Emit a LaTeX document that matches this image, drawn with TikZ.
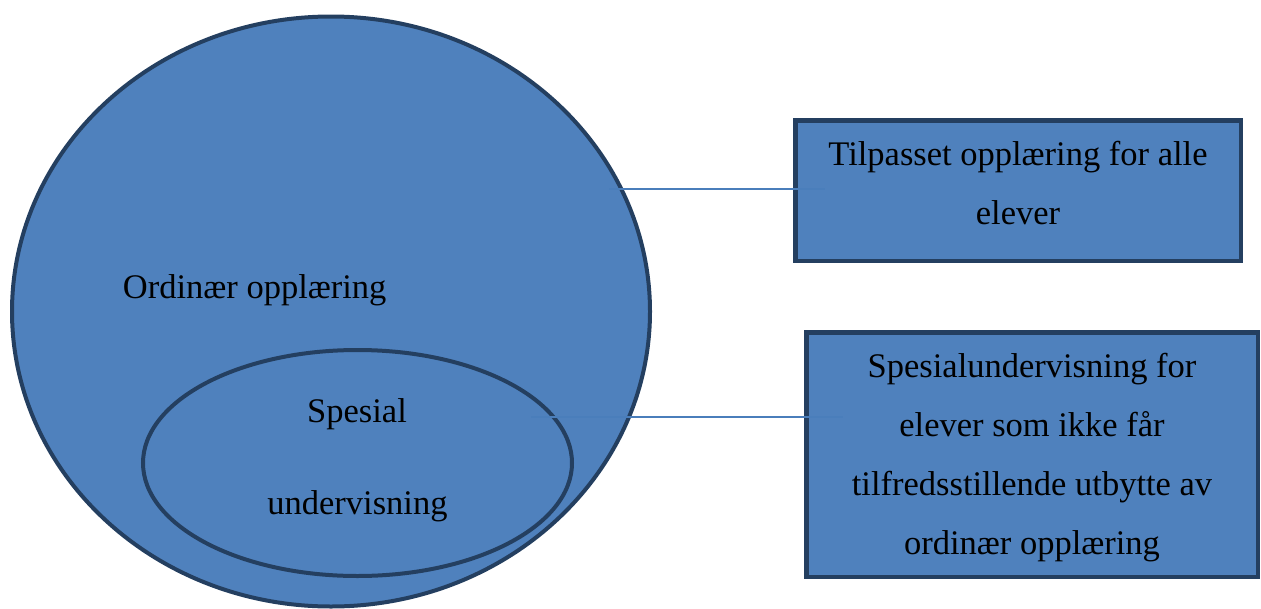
\documentclass[tikz,border=0pt]{standalone}
\usepackage{fontspec}
\setmainfont{Liberation Serif}
\usetikzlibrary{shapes.geometric}
\definecolor{fillblue}{HTML}{4F81BD}
\definecolor{edgeblue}{HTML}{243F60}
\definecolor{linkblue}{HTML}{4A7EBB}
\tikzset{
  venn/.style={ellipse, draw=edgeblue, fill=fillblue, line width=4pt, inner sep=0pt},
  infobox/.style={rectangle, draw=edgeblue, fill=fillblue, line width=4.5pt, inner sep=0pt},
  label text/.style={inner sep=0pt, font=\fontsize{34.5}{59}\selectfont, text=black},
  link/.style={draw=linkblue, line width=1.6pt}
}
\begin{document}
\begin{tikzpicture}[x=1pt, y=-1pt]
\useasboundingbox (0,0) rectangle (1261,608);
% ellipses
\node[venn, minimum width=638pt, minimum height=590pt] (big) at (331,311.5) {};
\node[venn, minimum width=429pt, minimum height=226pt] (small) at (357.5,463) {};
% boxes
\node[infobox, minimum width=445.5pt, minimum height=140.5pt] (box1) at (1018,190.5) {};
\node[infobox, minimum width=451.5pt, minimum height=244.5pt] (box2) at (1032,454.5) {};
% texts
\node[label text, anchor=base west] (ord) at (122.7,298) {Ordinær opplæring};
\node[label text, anchor=base] (spes) at (357,422.7) {Spesial};
\node[label text, anchor=base] (underv) at (357.5,514) {undervisning};
\node[label text, anchor=north, align=center] (t1) at (1018,141.4) {Tilpasset opplæring for alle\\elever};
\node[label text, anchor=north, align=center] (t2) at (1032,353.4) {Spesialundervisning for\\elever som ikke får\\tilfredsstillende utbytte av\\ordinær opplæring};
% connectors
\coordinate (c1a) at (609,189);
\coordinate (c1b) at (825,189);
\coordinate (c2a) at (531,417);
\coordinate (c2b) at (843,417);
\draw[link] (c1a) -- (c1b);
\draw[link] (c2a) -- (c2b);
\end{tikzpicture}
\end{document}
